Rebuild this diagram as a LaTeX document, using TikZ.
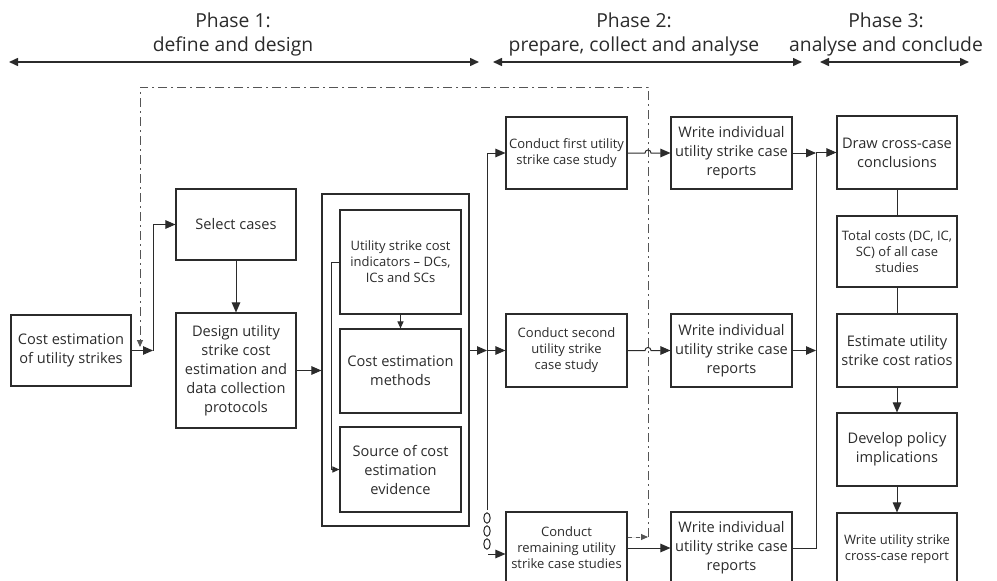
\documentclass[tikz,border=0pt]{standalone}
\usepackage{fontspec}
\setmainfont{Open Sans}
\usetikzlibrary{arrows.meta,calc}
\definecolor{ink}{HTML}{2B2B2B}
\definecolor{dash}{HTML}{555555}
\begin{document}
\begin{tikzpicture}[x=1pt,y=-1pt,
  box/.style={draw=ink, line width=1.1pt, align=center, inner sep=1pt, text=ink, font=\fontsize{14.6}{19}\selectfont},
  sbox/.style={box, font=\fontsize{13}{16}\selectfont},
  arr/.style={draw=ink, line width=1pt, -{Triangle[length=10pt,width=8.5pt]}},
  sarr/.style={draw=ink, line width=1pt, -{Triangle[length=7pt,width=6pt]}},
  ln/.style={draw=ink, line width=1pt},
  phase/.style={draw=ink, line width=1.5pt, {Triangle[length=9pt,width=8pt]}-{Triangle[length=9pt,width=8pt]}},
  ptext/.style={align=center, text=ink, font=\fontsize{19.3}{24}\selectfont, inner sep=0pt},
  dd/.style={draw=dash, line width=0.9pt, dash pattern=on 9pt off 4pt on 2pt off 4pt},
  dsh/.style={draw=dash, line width=0.9pt, dash pattern=on 4pt off 4pt},
  dtip/.style={-{Triangle[length=7pt,width=6pt]}},
  circ/.style={draw=ink, line width=1pt}
]
\useasboundingbox (0,0) rectangle (997,581);
\clip (0,0) rectangle (997,581);

% phase headings
\node[ptext] (p1) at (233,34) {Phase 1:\\define and design};
\node[ptext] (p2) at (634,34) {Phase 2:\\prepare, collect and analyse};
\node[ptext] (p3) at (886,34) {Phase 3:\\analyse and conclude};
\coordinate (a1l) at (9,62);   \coordinate (a1r) at (479,62);
\coordinate (a2l) at (493,62); \coordinate (a2r) at (802,62);
\coordinate (a3l) at (820,62); \coordinate (a3r) at (969,62);
\draw[phase] (a1l) -- (a1r);
\draw[phase] (a2l) -- (a2r);
\draw[phase] (a3l) -- (a3r);

% phase 1 boxes
\node[box, minimum width=120, minimum height=71] (ce) at (71,350.5) {Cost estimation\\of utility strikes};
\node[box, minimum width=120, minimum height=71] (sel) at (236,224.5) {Select cases};
\node[box, minimum width=120, minimum height=115] (des) at (236,370.5) {Design utility\\strike cost\\estimation and\\data collection\\protocols};
\node[box, minimum width=147, minimum height=332] (big) at (395.5,360) {};
\node[sbox, minimum width=121, minimum height=104] (ind) at (400.5,262) {Utility strike cost\\indicators -- DCs,\\ICs and SCs};
\node[box, minimum width=121, minimum height=84] (meth) at (400.5,371) {Cost estimation\\methods};
\node[box, minimum width=121, minimum height=85] (src) at (400.5,469.5) {Source of cost\\estimation\\evidence};

% phase 2 boxes
\node[sbox, minimum width=121, minimum height=72] (cf) at (566.5,153) {Conduct first utility\\strike case study};
\node[sbox, minimum width=121, minimum height=73] (cs) at (566.5,350.5) {Conduct second\\utility strike\\case study};
\node[sbox, minimum width=121, minimum height=72] (cr) at (566.5,548) {Conduct\\remaining utility\\strike case studies};
\node[box, minimum width=121, minimum height=72] (w1) at (731.5,153) {Write individual\\utility strike case\\reports};
\node[box, minimum width=121, minimum height=73] (w2) at (731.5,350.5) {Write individual\\utility strike case\\reports};
\node[box, minimum width=121, minimum height=72] (w3) at (731.5,548) {Write individual\\utility strike case\\reports};

% phase 3 boxes
\node[box, minimum width=120, minimum height=73] (dc) at (897,152.5) {Draw cross-case\\conclusions};
\node[sbox, minimum width=120, minimum height=71] (tc) at (897,251.5) {Total costs (DC, IC,\\SC) of all case\\studies};
\node[box, minimum width=120, minimum height=73] (eu) at (897,350.5) {Estimate utility\\strike cost ratios};
\node[box, minimum width=120, minimum height=73] (dp) at (897,449.5) {Develop policy\\implications};
\node[sbox, minimum width=120, minimum height=72] (wr) at (897,549) {Write utility strike\\cross-case report};

% feedback loop (dash-dot)
\coordinate (fbr) at (648,537);
\coordinate (fbtr) at (648,87);
\coordinate (fbtl) at (140,87);
\coordinate (fbend) at (140,347);
\draw[dsh, dtip, fill=dash] (cr.east |- fbr) -- (fbr);
\draw[dd] (fbr) -- (fbtr) -- (fbtl) -- ($(fbend)+(0,-6)$);
\draw[draw=dash, line width=0.9pt, dtip, fill=dash] ($(fbend)+(0,-6)$) -- (fbend);

% phase 1 connectors
\coordinate (j1) at (153,350.5);
\draw[arr] (ce.east) -- (j1);
\draw[arr] (j1) |- (sel.west);
\draw[arr] (sel.south) -- (des.north);
\draw[arr] (des.east) -- (des.east -| big.west);
\draw[sarr] (ind.south) -- (meth.north);
\draw[sarr] (ind.west) -- ++(-8,0) |- (src.west);

% bus to phase 2
\coordinate (b2) at (487,350.5);
\coordinate (bbot) at (487,510);
\draw[arr] (big.east |- cs.west) -- (b2);
\draw[arr] (b2) -- (cs.west);
\draw[arr] (bbot) |- (cf.west);
\draw[circ] (487,518) ellipse [x radius=3.2, y radius=5.2];
\draw[circ] (487,531) ellipse [x radius=3.2, y radius=5.2];
\draw[circ] (487,544) ellipse [x radius=3.2, y radius=5.2];
\coordinate (c0) at (488,554);
\draw[arr] (c0) -- (c0 -| cr.west);

% phase 2 connectors with jumps
\draw[arr] (cf.east) -- (645,153) .. controls (645,149) and (651,149) .. (651,153) -- (w1.west);
\draw[arr] (cs.east) -- (645,350.5) .. controls (645,346.5) and (651,346.5) .. (651,350.5) -- (w2.west);
\draw[arr] (cr.east) -- (w3.west);

% right bus
\coordinate (rb) at (816,153);
\draw[arr] (w1.east) -- (rb);
\draw[arr] (rb) -- (rb |- dc.west) -- (dc.west);
\draw[arr] (w2.east) -- (w2.east -| rb);
\draw[ln] (w3.east) -| (rb);

% phase 3 connectors
\draw[ln] (dc.south) -- (tc.north);
\draw[ln] (tc.south) -- (eu.north);
\draw[arr] (eu.south) -- (dp.north);
\draw[arr] (dp.south) -- (wr.north);
\end{tikzpicture}
\end{document}
